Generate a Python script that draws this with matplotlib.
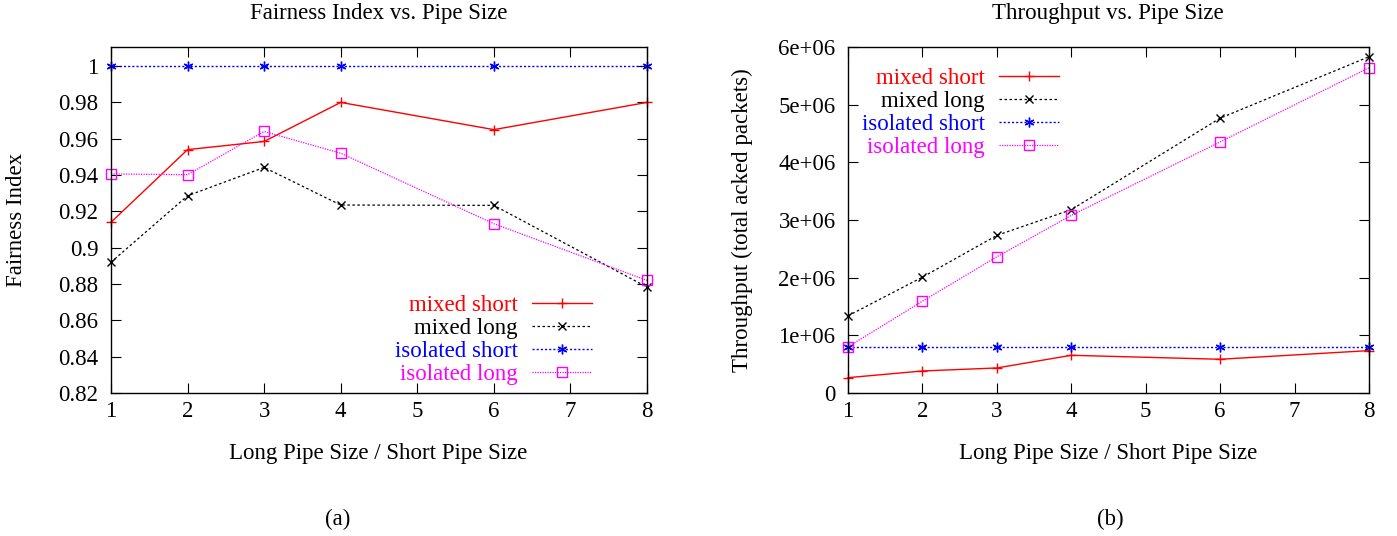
import matplotlib
matplotlib.use("Agg")
import matplotlib.pyplot as plt
from matplotlib.ticker import FixedLocator

plt.rcParams['font.family'] = ['Liberation Serif', 'DejaVu Serif']
FS = 16.5
plt.rcParams['font.size'] = FS

pipe_ratio = [1, 2, 3, 4, 6, 8]
series_labels = ["mixed short", "mixed long", "isolated short", "isolated long"]

fair_mixed_short = [0.914, 0.954, 0.9585, 0.980, 0.965, 0.980]
fair_mixed_long = [0.892, 0.9286, 0.9442, 0.9235, 0.9233, 0.8783]
fair_isolated_short = [1.0, 1.0, 1.0, 1.0, 1.0, 1.0]
fair_isolated_long = [0.9406, 0.9402, 0.964, 0.952, 0.9132, 0.882]

thr_mixed_short = [0.266e6, 0.382e6, 0.434e6, 0.654e6, 0.585e6, 0.735e6]
thr_mixed_long = [1.338e6, 2.009e6, 2.733e6, 3.179e6, 4.766e6, 5.831e6]
thr_isolated_short = [0.805e6, 0.805e6, 0.805e6, 0.805e6, 0.805e6, 0.805e6]
thr_isolated_long = [0.80e6, 1.592e6, 2.362e6, 3.08e6, 4.354e6, 5.64e6]

x_ticks = [1, 2, 3, 4, 5, 6, 7, 8]
fair_ticks = [0.82, 0.84, 0.86, 0.88, 0.9, 0.92, 0.94, 0.96, 0.98, 1.0]
fair_tick_labels = ["0.82", "0.84", "0.86", "0.88", "0.9", "0.92", "0.94", "0.96", "0.98", "1"]
thr_ticks = [0, 1e6, 2e6, 3e6, 4e6, 5e6, 6e6]
thr_tick_labels = ["0", "1e+06", "2e+06", "3e+06", "4e+06", "5e+06", "6e+06"]

colors = ["#ff0000", "#000000", "#0000ff", "#ff00ff"]
styles = [
    dict(linestyle='-', marker='+', markersize=7, linewidth=1.0),
    dict(linestyle=(0, (2, 2)), marker='x', markersize=6, linewidth=0.9),
    dict(linestyle=(0, (1.5, 1.5)), marker=(6, 2, 0), markersize=7, linewidth=1.0),
    dict(linestyle=(0, (1, 1)), marker='s', markersize=6.5, linewidth=0.9, markerfacecolor='none'),
]

W, H = 1397, 536
fig = plt.figure(figsize=(W / 100, H / 100), dpi=100)

def px_axes(x0, y0, x1, y1):
    return fig.add_axes([x0 / W, 1 - y1 / H, (x1 - x0) / W, (y1 - y0) / H])

ax1 = px_axes(111, 47, 647, 393)
ax2 = px_axes(848, 47, 1369, 393)

def style_axes(ax):
    ax.tick_params(direction='in', top=True, right=True, length=7, width=0.8, labelsize=FS)
    ax.tick_params(axis='x', pad=6)
    ax.tick_params(axis='y', pad=9)
    for s in ax.spines.values():
        s.set_linewidth(1.0)
    ax.set_xlim(1, 8)
    ax.xaxis.set_major_locator(FixedLocator(x_ticks))
    ax.set_xticklabels([str(t) for t in x_ticks])

fair_data = [fair_mixed_short, fair_mixed_long, fair_isolated_short, fair_isolated_long]
thr_data = [thr_mixed_short, thr_mixed_long, thr_isolated_short, thr_isolated_long]

for lbl, ys, c, st in zip(series_labels, fair_data, colors, styles):
    ax1.plot(pipe_ratio, ys, color=c, label=lbl, clip_on=False, **st)
for lbl, ys, c, st in zip(series_labels, thr_data, colors, styles):
    ax2.plot(pipe_ratio, ys, color=c, label=lbl, clip_on=False, **st)

style_axes(ax1)
ax1.set_ylim(0.82, 1.0105)
ax1.yaxis.set_major_locator(FixedLocator(fair_ticks))
ax1.set_yticklabels(fair_tick_labels)

style_axes(ax2)
ax2.set_ylim(0, 6e6)
ax2.yaxis.set_major_locator(FixedLocator(thr_ticks))
ax2.set_yticklabels(thr_tick_labels)

def make_legend(ax, loc, anchor):
    leg = ax.legend(loc=loc, bbox_to_anchor=anchor, bbox_transform=fig.transFigure,
                    markerfirst=False, frameon=False,
                    handlelength=2.6, handletextpad=0.65, labelspacing=0.08,
                    numpoints=1, fontsize=FS, borderaxespad=0, borderpad=0)
    for t, c in zip(leg.get_texts(), colors):
        t.set_color(c)
    return leg

make_legend(ax1, 'lower right', (592 / W, 1 - 385 / H))
make_legend(ax2, 'upper right', (1059 / W, 1 - 68 / H))

fig.text(379 / W, 1 - 14 / H, "Fairness Index vs. Pipe Size", ha='center', va='center', fontsize=FS)
fig.text(1108 / W, 1 - 14 / H, "Throughput vs. Pipe Size", ha='center', va='center', fontsize=FS)
fig.text(378 / W, 1 - 453 / H, "Long Pipe Size / Short Pipe Size", ha='center', va='center', fontsize=FS)
fig.text(1108 / W, 1 - 453 / H, "Long Pipe Size / Short Pipe Size", ha='center', va='center', fontsize=FS)
fig.text(17 / W, 1 - 220 / H, "Fairness Index", ha='center', va='center', rotation=90, fontsize=FS)
fig.text(742 / W, 1 - 220 / H, "Throughput (total acked packets)", ha='center', va='center', rotation=90, fontsize=FS)
fig.text(338 / W, 1 - 519 / H, "(a)", ha='center', va='center', fontsize=FS)
fig.text(1110 / W, 1 - 519 / H, "(b)", ha='center', va='center', fontsize=FS)

fig.savefig("out.png", dpi=100)
